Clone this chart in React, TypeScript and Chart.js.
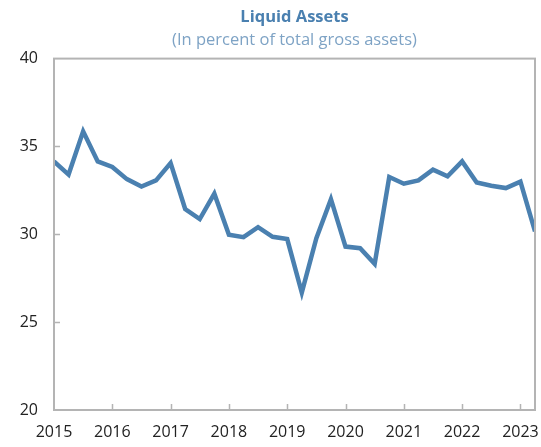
import React, { useEffect, useRef } from "react";
import { Chart, registerables } from "chart.js";

Chart.register(...registerables);

const startYear = 2015;
const quarterIndex: number[] = Array.from({ length: 34 }, (_, i) => i);
const liquidAssets: number[] = [
  34.15, 33.4, 35.86, 34.15, 33.83, 33.14, 32.72, 33.07,
  34.05, 31.44, 30.87, 32.31, 29.97, 29.84, 30.41, 29.86,
  29.73, 26.68, 29.78, 32.0, 29.3, 29.21, 28.32, 33.26,
  32.88, 33.07, 33.68, 33.3, 34.15, 32.95, 32.76, 32.63,
  33.0, 30.16,
];
const yTicks: number[] = [20, 25, 30, 35, 40];
const titleText = "Liquid Assets";
const subtitleText = "(In percent of total gross assets)";

const frameColor = "#b4b4b4";

const framePlugin = {
  id: "frame",
  afterDraw(chart: any) {
    const { ctx, chartArea, scales } = chart;
    const { left, right, top, bottom } = chartArea;
    ctx.save();
    ctx.strokeStyle = frameColor;
    ctx.lineWidth = 2;
    ctx.strokeRect(left, top, right - left, bottom - top);
    ctx.beginPath();
    for (let q = 4; q < quarterIndex.length; q += 4) {
      const x = Math.round(scales.x.getPixelForValue(q)) + 0.5;
      ctx.moveTo(x, bottom);
      ctx.lineTo(x, bottom - 6);
    }
    for (const v of yTicks) {
      if (v === 20 || v === 40) continue;
      const y = Math.round(scales.y.getPixelForValue(v)) + 0.5;
      ctx.moveTo(left, y);
      ctx.lineTo(left + 6, y);
    }
    ctx.lineWidth = 1.5;
    ctx.stroke();
    ctx.restore();
  },
};

export default function App() {
  const ref = useRef<HTMLCanvasElement | null>(null);
  useEffect(() => {
    if (!ref.current) return;
    const chart = new Chart(ref.current, {
      type: "line",
      data: {
        datasets: [
          {
            data: quarterIndex.map((q, i) => ({ x: q, y: liquidAssets[i] })),
            borderColor: "#4a80b0",
            borderWidth: 4.5,
            pointRadius: 0,
            tension: 0,
            borderJoinStyle: "miter",
            fill: false,
          },
        ],
      },
      plugins: [framePlugin],
      options: {
        animation: false,
        responsive: false,
        maintainAspectRatio: false,
        layout: { padding: { top: 7, right: 6, left: 0, bottom: 0 } },
        plugins: {
          legend: { display: false },
          tooltip: { enabled: false },
          title: {
            display: true,
            text: titleText,
            fullSize: false,
            color: "#4a80b0",
            font: { family: "Open Sans", size: 16.5, weight: "bold" },
            padding: { top: 0, bottom: 4 },
          },
          subtitle: {
            display: true,
            text: subtitleText,
            fullSize: false,
            color: "#7ea3c5",
            font: { family: "Open Sans", size: 16.5 },
            padding: { top: 0, bottom: 8 },
          },
        },
        scales: {
          x: {
            type: "linear",
            min: 0,
            max: quarterIndex.length - 1,
            grid: { display: false, drawTicks: false },
            border: { display: false },
            afterFit: (s: any) => {
              s.height = 37;
              s.paddingLeft = 0;
              s.paddingRight = 0;
            },
            afterBuildTicks: (s: any) => {
              const t = [];
              for (let q = 0; q < quarterIndex.length; q += 4) t.push({ value: q });
              s.ticks = t;
            },
            ticks: {
              autoSkip: false,
              maxRotation: 0,
              padding: 13,
              color: "#222",
              font: { family: "Open Sans", size: 16 },
              callback: (v: any) => String(startYear + Math.round(Number(v)) / 4),
            },
          },
          y: {
            min: 20,
            max: 40,
            grid: { display: false, drawTicks: false },
            border: { display: false },
            afterFit: (s: any) => {
              s.width = 54;
              s.paddingTop = 0;
              s.paddingBottom = 0;
            },
            afterBuildTicks: (s: any) => {
              s.ticks = yTicks.map((v) => ({ value: v }));
            },
            ticks: {
              padding: 16,
              color: "#222",
              font: { family: "Open Sans", size: 16 },
            },
          },
        },
      },
    });
    return () => chart.destroy();
  }, []);
  return (
    <div style={{ position: "fixed", left: 0, top: 0, width: 541, height: 447, background: "#fff" }}>
      <canvas ref={ref} width={541} height={447} style={{ display: "block" }} />
    </div>
  );
}
